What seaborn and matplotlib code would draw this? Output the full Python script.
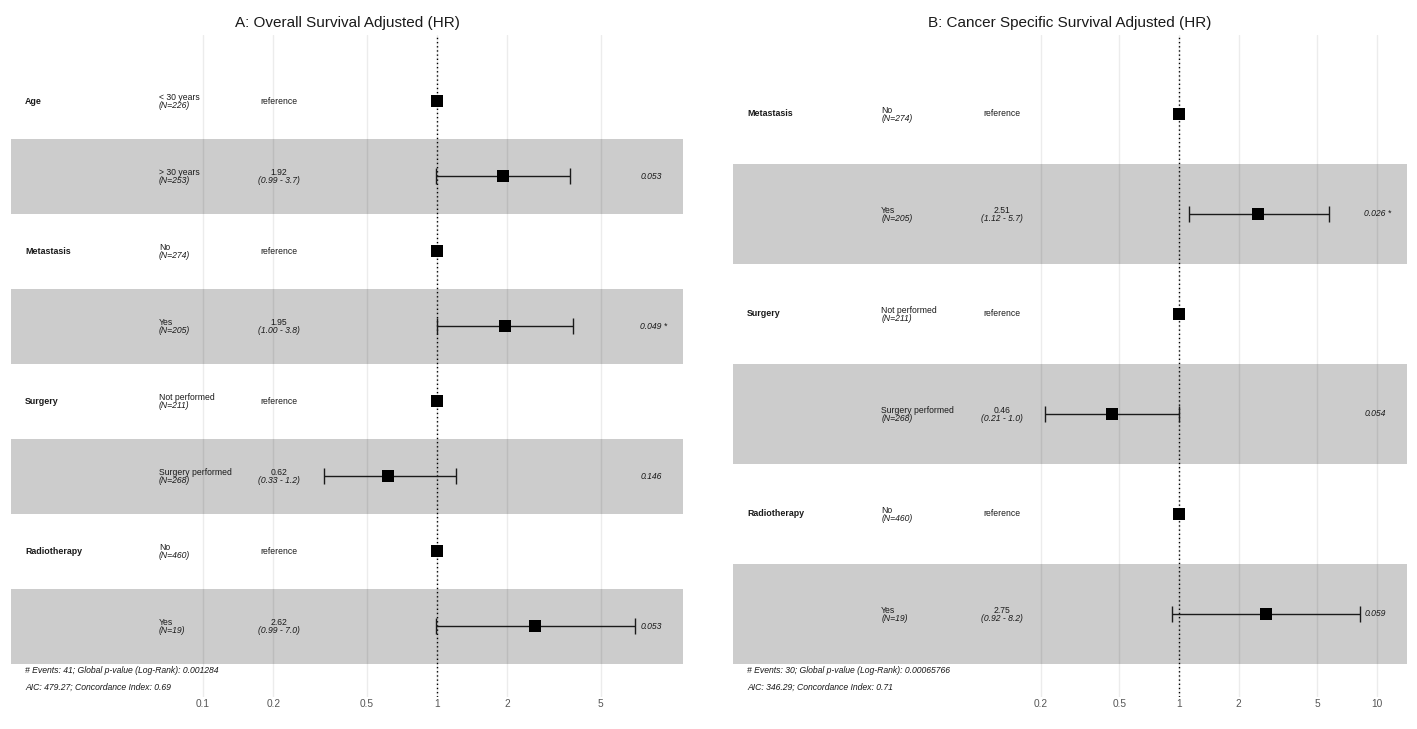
import numpy as np
import pandas as pd
import matplotlib
matplotlib.use("Agg")
import matplotlib.pyplot as plt
import matplotlib.transforms as mtransforms
from matplotlib.ticker import NullLocator
import seaborn as sns

# Panel A: overall survival
a_var = ["Age", "", "Metastasis", "", "Surgery", "", "Radiotherapy", ""]
a_level = ["< 30 years", "> 30 years", "No", "Yes", "Not performed", "Surgery performed", "No", "Yes"]
a_n = [226, 253, 274, 205, 211, 268, 460, 19]
a_hr = [1, 1.92, 1, 1.95, 1, 0.62, 1, 2.62]
a_lo = [np.nan, 0.99, np.nan, 1.00, np.nan, 0.33, np.nan, 0.99]
a_hi = [np.nan, 3.7, np.nan, 3.8, np.nan, 1.2, np.nan, 7.0]
a_p = ["", "0.053", "", "0.049 *", "", "0.146", "", "0.053"]
a_ticks = [0.1, 0.2, 0.5, 1, 2, 5]
a_foot = ["# Events: 41; Global p-value (Log-Rank): 0.001284",
          "AIC: 479.27; Concordance Index: 0.69"]

# Panel B: cancer specific survival
b_var = ["Metastasis", "", "Surgery", "", "Radiotherapy", ""]
b_level = ["No", "Yes", "Not performed", "Surgery performed", "No", "Yes"]
b_n = [274, 205, 211, 268, 460, 19]
b_hr = [1, 2.51, 1, 0.46, 1, 2.75]
b_lo = [np.nan, 1.12, np.nan, 0.21, np.nan, 0.92]
b_hi = [np.nan, 5.7, np.nan, 1.0, np.nan, 8.2]
b_p = ["", "0.026 *", "", "0.054", "", "0.059"]
b_ticks = [0.2, 0.5, 1, 2, 5, 10]
b_foot = ["# Events: 30; Global p-value (Log-Rank): 0.00065766",
          "AIC: 346.29; Concordance Index: 0.71"]

sns.set_theme(style="white")
plt.rcParams["font.family"] = ["Liberation Sans", "DejaVu Sans"]

BAND = "#cccccc"
FS = 6.2
TXT = "#1a1a1a"


def draw_panel(ax, title, var, level, n, hr, lo, hi, pval, ticks, xlim, ylim, foot):
    df = pd.DataFrame({"row": range(len(var)), "hr": hr, "lo": lo, "hi": hi})
    ax.set_xscale("log")

    # striped rows
    for i in df["row"]:
        if i % 2 == 1:
            ax.axhspan(i - 0.5, i + 0.5, color=BAND, lw=0, zorder=0)

    for t in ticks:
        ax.axvline(t, color="black", alpha=0.075, lw=1, zorder=1)
    ax.axvline(1, color="black", ls=(0, (1, 2)), lw=1, zorder=3)

    ci = df.dropna()
    ax.errorbar(ci["hr"], ci["row"], xerr=[ci["hr"] - ci["lo"], ci["hi"] - ci["hr"]],
                fmt="none", ecolor=TXT, elinewidth=1, capsize=6, capthick=1, zorder=4)
    sns.scatterplot(data=df, x="hr", y="row", marker="s", s=78, color="black",
                    edgecolor="black", linewidth=0, legend=False, ax=ax, zorder=5)

    tr = mtransforms.blended_transform_factory(ax.transAxes, ax.transData)
    for i in df["row"]:
        if var[i]:
            ax.text(0.0208, i, var[i], transform=tr, ha="left", va="center",
                    fontsize=FS + 0.2, fontweight="bold", color=TXT)
        ax.annotate(level[i], xy=(0.22, i), xycoords=tr, xytext=(0, 2.8),
                    textcoords="offset points", ha="left", va="center",
                    fontsize=FS, color=TXT)
        ax.annotate(f"(N={n[i]})", xy=(0.22, i), xycoords=tr, xytext=(0, -3.0),
                    textcoords="offset points", ha="left", va="center",
                    fontsize=FS, style="italic", color=TXT)
        if np.isnan(lo[i]):
            ax.text(0.399, i, "reference", transform=tr, ha="center", va="center",
                    fontsize=FS, color=TXT)
        else:
            ax.annotate(f"{hr[i]:.2f}", xy=(0.399, i), xycoords=tr, xytext=(0, 2.8),
                        textcoords="offset points", ha="center", va="center",
                        fontsize=FS, color=TXT)
            ax.annotate(f"({lo[i]:.2f} - {hi[i]:.1f})", xy=(0.399, i), xycoords=tr,
                        xytext=(0, -3.0), textcoords="offset points", ha="center",
                        va="center", fontsize=FS, style="italic", color=TXT)
        if pval[i]:
            ax.text(0.9365, i, pval[i], transform=tr, ha="left", va="center",
                    fontsize=FS, style="italic", color=TXT)

    ax.text(0.0208, 0.0393, foot[0], transform=ax.transAxes, ha="left", va="center",
            fontsize=FS, style="italic", color=TXT)
    ax.text(0.0208, 0.0151, foot[1], transform=ax.transAxes, ha="left", va="center",
            fontsize=FS, style="italic", color=TXT)

    ax.set_xlim(*xlim)
    ax.set_ylim(*ylim)
    ax.set_xticks(ticks)
    ax.set_xticklabels([f"{t:g}" for t in ticks])
    ax.xaxis.set_minor_locator(NullLocator())
    ax.set_yticks([])
    ax.tick_params(axis="x", length=0, pad=1.5, labelsize=7.3, labelcolor="#555555")
    ax.set_xlabel("")
    ax.set_ylabel("")
    for s in ax.spines.values():
        s.set_visible(False)
    ax.set_title(title, fontsize=11, pad=6, color=TXT)


fig = plt.figure(figsize=(14.17, 7.29), dpi=100)
ax_a = fig.add_axes([11 / 1417, 32 / 729, 672 / 1417, 662 / 729])
ax_b = fig.add_axes([733 / 1417, 32 / 729, 674 / 1417, 662 / 729])

draw_panel(ax_a, "A: Overall Survival Adjusted (HR)", a_var, a_level, a_n, a_hr, a_lo, a_hi,
           a_p, a_ticks, (0.01512, 11.25), (7.94, -0.88), a_foot)
draw_panel(ax_b, "B: Cancer Specific Survival Adjusted (HR)", b_var, b_level, b_n, b_hr, b_lo,
           b_hi, b_p, b_ticks, (0.005593, 14.17), (5.83, -0.79), b_foot)

fig.savefig("out.png", dpi=100, facecolor="white")
